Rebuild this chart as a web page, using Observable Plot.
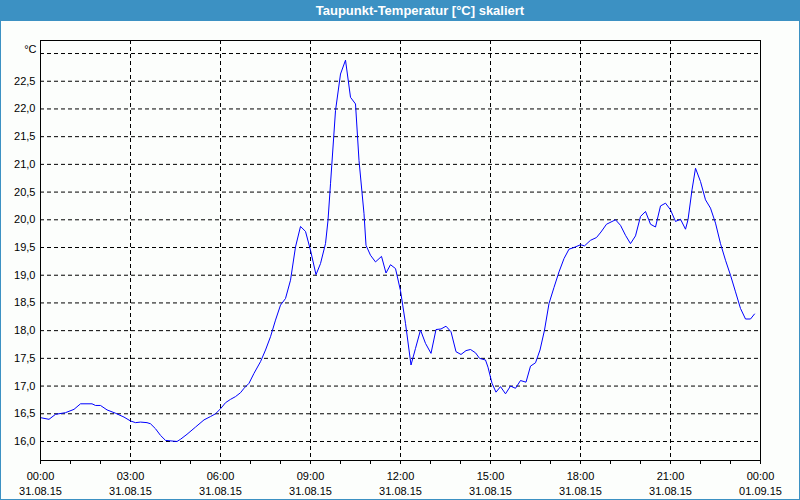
<!DOCTYPE html>
<html>
<head>
<meta charset="utf-8">
<script src="https://cdn.jsdelivr.net/npm/d3@7"></script>
<script src="https://cdn.jsdelivr.net/npm/@observablehq/plot@0.6"></script>
<style>
  html, body { margin: 0; padding: 0; background: #fcfefc; }
  #wrap { position: relative; width: 800px; height: 500px; background: #fcfefc; overflow: hidden; }
  #title { position: absolute; left: 0; top: 0; width: 800px; height: 21px; background: #3c91c3; color: #fff;
           font: bold 13px "Liberation Sans Narrow", "Liberation Sans", Arial, sans-serif; line-height: 21px;
           text-align: center; padding-left: 40px; box-sizing: border-box; }
  #chart { position: absolute; left: 0; top: 20px; }
  #border { position: absolute; left: 0; top: 0; width: 800px; height: 500px; box-sizing: border-box;
            border: 1px solid #3c91c3; border-top: none; pointer-events: none; }
</style>
</head>
<body>
<div id="wrap">
  <div id="title">Taupunkt-Temperatur [°C] skaliert</div>
  <div id="chart"></div>
  <div id="border"></div>
</div>
<script>
// Data: time of day (31.08.15) and dew point temperature in °C
const times = [
  "00:00","00:17","00:30","00:50","01:07","01:20","01:43","01:50","02:00","02:13",
  "02:30","02:47","03:00","03:10","03:20","03:33","03:40","03:50","04:00","04:10",
  "04:33","04:40","04:53","05:10","05:27","05:40","05:50","06:00","06:10","06:20",
  "06:30","06:40","06:47","06:57","07:07","07:20","07:30","07:40","07:50","08:00",
  "08:10","08:20","08:30","08:40","08:50","09:00","09:11","09:20","09:30","09:35",
  "09:40","09:50","10:00","10:10","10:20","10:30","10:37","10:47","10:51","11:00",
  "11:10","11:22","11:31","11:40","11:50","12:00","12:10","12:21","12:30","12:40",
  "12:50","13:01","13:11","13:21","13:31","13:41","13:51","14:01","14:11","14:20",
  "14:30","14:38","14:50","14:55","15:03","15:11","15:20","15:30","15:40","15:50",
  "16:00","16:11","16:20","16:30","16:39","16:48","16:57","17:07","17:17","17:27",
  "17:37","17:47","18:00","18:08","18:20","18:32","18:41","18:52","19:01","19:10",
  "19:20","19:30","19:40","19:50","20:00","20:10","20:20","20:30","20:40","20:50",
  "21:00","21:10","21:20","21:30","21:35","21:43","21:50","22:00","22:10","22:20",
  "22:30","22:40","22:50","23:00","23:10","23:20","23:30","23:40","23:48"
];
const values = [
  16.43,16.40,16.49,16.52,16.58,16.68,16.68,16.65,16.65,16.57,
  16.51,16.44,16.37,16.34,16.35,16.34,16.32,16.23,16.11,16.02,
  16.00,16.04,16.13,16.26,16.39,16.45,16.50,16.59,16.70,16.76,
  16.81,16.88,16.96,17.05,17.23,17.44,17.65,17.89,18.19,18.46,
  18.58,18.91,19.51,19.88,19.79,19.45,19.01,19.21,19.57,19.99,
  20.65,21.97,22.63,22.88,22.21,22.09,21.07,20.11,19.54,19.36,
  19.24,19.34,19.04,19.19,19.12,18.72,18.13,17.38,17.68,18.01,
  17.77,17.59,18.02,18.03,18.08,17.98,17.62,17.57,17.64,17.66,
  17.60,17.50,17.47,17.34,17.05,16.89,16.99,16.86,17.00,16.96,
  17.10,17.07,17.36,17.42,17.65,18.01,18.49,18.78,19.06,19.30,
  19.47,19.50,19.55,19.53,19.63,19.68,19.78,19.92,19.96,20.00,
  19.90,19.72,19.57,19.71,20.06,20.15,19.92,19.87,20.25,20.30,
  20.18,19.97,20.01,19.83,20.00,20.54,20.93,20.69,20.36,20.21,
  19.94,19.57,19.27,19.00,18.70,18.40,18.21,18.21,18.30
];
const yTickValues = [16.0,16.5,17.0,17.5,18.0,18.5,19.0,19.5,20.0,20.5,21.0,21.5,22.0,22.5];
const yGridValues = [16.0,16.5,17.0,17.5,18.0,18.5,19.0,19.5,20.0,20.5,21.0,21.5,22.0,22.5,23.0];
const yDomain = [15.657, 23.235];
const unitLabel = "°C";

const start = new Date(Date.UTC(2015, 7, 31, 0, 0));
const end = new Date(Date.UTC(2015, 8, 1, 0, 0));
const data = times.map((t, i) => {
  const [h, m] = t.split(":").map(Number);
  return {date: new Date(Date.UTC(2015, 7, 31, h, m)), value: values[i]};
});
const majorTicks = d3.utcHour.every(3).range(start, new Date(+end + 1));
const hourTicks = d3.utcHour.range(start, new Date(+end + 1));
const fmtX = d3.utcFormat("%H:%M\n%d.%m.%y");
const fmtY = d => d.toFixed(1).replace(".", ",");

const chart = Plot.plot({
  width: 800,
  height: 480,
  marginTop: 20,
  marginBottom: 40,
  marginLeft: 40,
  marginRight: 40,
  style: {fontFamily: "'Liberation Sans', Arial, sans-serif", fontSize: "11px", background: "transparent", color: "black"},
  x: {type: "utc", domain: [start, end], label: null},
  y: {domain: yDomain, label: null},
  marks: [
    Plot.gridX(majorTicks, {stroke: "black", strokeOpacity: 1, strokeDasharray: "4,3"}),
    Plot.gridY(yGridValues, {stroke: "black", strokeOpacity: 1, strokeDasharray: "4,3"}),
    Plot.line(data, {x: "date", y: "value", stroke: "#0000ff", strokeWidth: 1}),
    Plot.frame({stroke: "black"}),
    Plot.axisX(hourTicks, {tickSize: 4, tickFormat: () => "", label: null}),
    Plot.axisX(majorTicks, {tickSize: 0, tickPadding: 9.5, tickFormat: fmtX, lineHeight: 1.31, label: null, fill: "black"}),
    Plot.axisY(yTickValues, {tickSize: 0, tickPadding: 5, tickFormat: fmtY, label: null, fill: "black"}),
    Plot.text([unitLabel], {frameAnchor: "top-left", dx: -4, dy: 4.5, textAnchor: "end", fill: "black"})
  ]
});
document.getElementById("chart").appendChild(chart);
</script>
</body>
</html>
